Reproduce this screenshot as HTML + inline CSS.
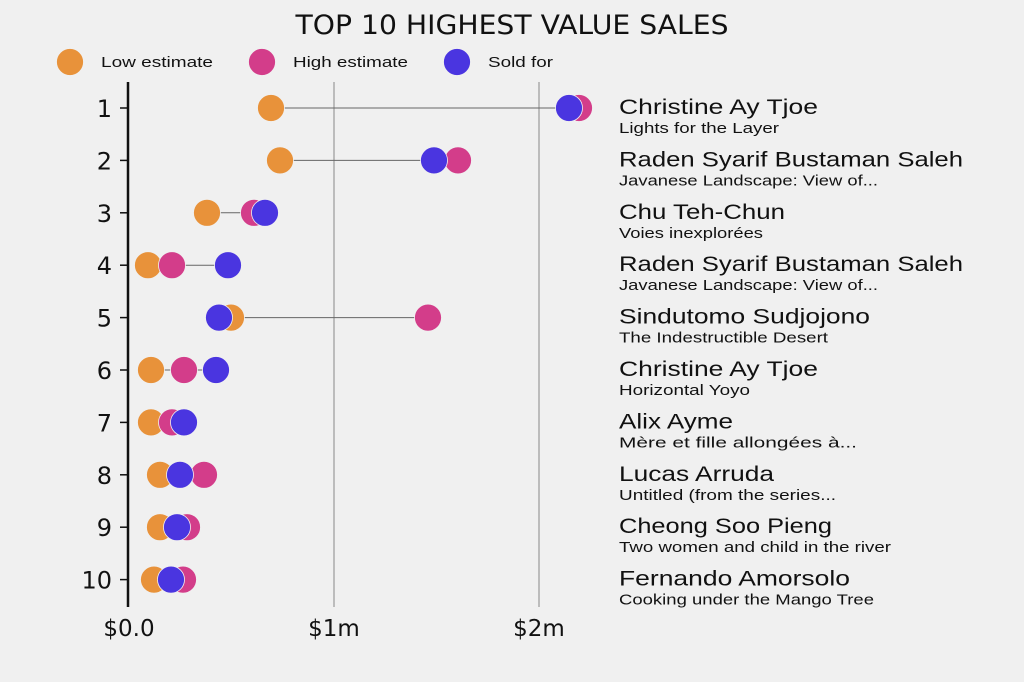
<!DOCTYPE html>
<html><head><meta charset="utf-8"><style>
html,body{margin:0;padding:0;background:#f0f0f0;}
svg{display:block;}
.n{font-family:"Liberation Sans",sans-serif;font-size:21px;fill:#111;}
.s{font-family:"Liberation Sans",sans-serif;font-size:15px;fill:#111;}
.d{font-family:"DejaVu Sans",sans-serif;fill:#111;}
</style></head><body>
<svg width="1024" height="682" viewBox="0 0 1024 682" xmlns="http://www.w3.org/2000/svg">
<rect width="1024" height="682" fill="#f0f0f0"/>
<text class="d" x="512" y="34" font-size="27" text-anchor="middle" textLength="433" lengthAdjust="spacingAndGlyphs">TOP 10 HIGHEST VALUE SALES</text>
<g stroke="#f0f0f0" stroke-width="0.8">
<circle cx="70" cy="62" r="13.5" fill="#E8923A"/>
<circle cx="262" cy="62" r="13.5" fill="#D33D8A"/>
<circle cx="457" cy="62" r="13.5" fill="#4A35E0"/>
</g>
<text class="s" x="101" y="67" font-size="16" textLength="112" lengthAdjust="spacingAndGlyphs">Low estimate</text>
<text class="s" x="293" y="67" font-size="16" textLength="115" lengthAdjust="spacingAndGlyphs">High estimate</text>
<text class="s" x="488" y="67" font-size="16" textLength="65" lengthAdjust="spacingAndGlyphs">Sold for</text>
<line x1="334" y1="82" x2="334" y2="607" stroke="#aaa" stroke-width="1.5"/>
<line x1="539" y1="82" x2="539" y2="607" stroke="#aaa" stroke-width="1.5"/>
<line x1="128" y1="82" x2="128" y2="607" stroke="#111" stroke-width="2.5"/>
<g class="d" font-size="23" text-anchor="middle">
<text x="129" y="636">$0.0</text><text x="334" y="636">$1m</text><text x="539" y="636">$2m</text>
</g>
<g id="rows"></g>
</svg>
<script>
var data=[
[271,579,569,"Christine Ay Tjoe","Lights for the Layer",199,160],
[280,458,434,"Raden Syarif Bustaman Saleh","Javanese Landscape: View of...",344,259],
[207,254,265,"Chu Teh-Chun","Voies inexplorées",166,144],
[148,172,228,"Raden Syarif Bustaman Saleh","Javanese Landscape: View of...",344,259],
[231,428,219,"Sindutomo Sudjojono","The Indestructible Desert",251,209],
[151,184,216,"Christine Ay Tjoe","Horizontal Yoyo",199,131],
[151,172,184,"Alix Ayme","Mère et fille allongées à...",114,238],
[160,204,180,"Lucas Arruda","Untitled (from the series...",155,217],
[160,187,177,"Cheong Soo Pieng","Two women and child in the river",213,272],
[154,183,171,"Fernando Amorsolo","Cooking under the Mango Tree",231,255]];
var h="";
data.forEach(function(d,i){
var y=108+i*52.4;
var mn=Math.min(d[0],d[1],d[2]),mx=Math.max(d[0],d[1],d[2]);
h+='<line x1="120" y1="'+y+'" x2="128" y2="'+y+'" stroke="#111" stroke-width="1.5"/>';
h+='<text class="d" x="112" y="'+(y+9)+'" font-size="24" text-anchor="end">'+(i+1)+'</text>';
h+='<line x1="'+mn+'" y1="'+y+'" x2="'+mx+'" y2="'+y+'" stroke="#666" stroke-width="1"/>';
h+='<circle cx="'+d[0]+'" cy="'+y+'" r="13.5" fill="#E8923A" stroke="#f0f0f0" stroke-width="0.8"/>';
h+='<circle cx="'+d[1]+'" cy="'+y+'" r="13.5" fill="#D33D8A" stroke="#f0f0f0" stroke-width="0.8"/>';
h+='<circle cx="'+d[2]+'" cy="'+y+'" r="13.5" fill="#4A35E0" stroke="#f0f0f0" stroke-width="0.8"/>';
h+='<text class="n" x="619" y="'+(y+6)+'" textLength="'+d[5]+'" lengthAdjust="spacingAndGlyphs">'+d[3]+'</text>';
h+='<text class="s" x="619" y="'+(y+25)+'" textLength="'+d[6]+'" lengthAdjust="spacingAndGlyphs">'+d[4]+'</text>';
});
document.getElementById("rows").innerHTML=h;
</script>
</body></html>
